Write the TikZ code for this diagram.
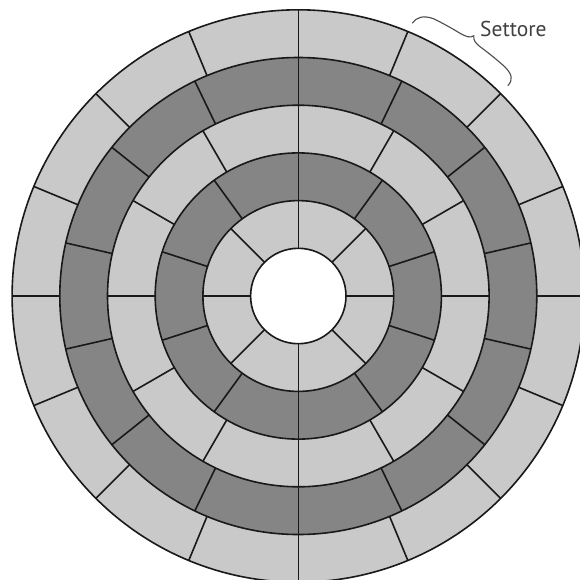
\documentclass[tikz,border=0pt]{standalone}
\usepackage{fontspec}
\setmainfont{PT Sans}
\begin{document}
\begin{tikzpicture}[x=1pt,y=1pt,
  ringline/.style={line width=1.6pt, draw=black!90},
  lightfill/.style={fill=black!21},
  darkfill/.style={fill=black!48},
  bracestyle/.style={line width=1.1pt, draw=black!70, line cap=round, line join=round},
  lbl/.style={text=black!75, font=\fontsize{21.5}{24}\selectfont, inner sep=0pt, anchor=base west}]
\useasboundingbox (0,-579) rectangle (580,0);
\clip (0,-579) rectangle (580,0);
\fill[white] (0,-579) rectangle (580,0);
\begin{scope}[shift={(298.3,-296)}]
  \def\ra{47.7}
  \def\rb{95.4}
  \def\rc{143.1}
  \def\rd{190.8}
  \def\re{238.5}
  \def\rf{286.2}
  % fills
  \fill[lightfill] (0,0) circle (\rf);
  \fill[darkfill] (0,0) circle (\re);
  \fill[lightfill] (0,0) circle (\rd);
  \fill[darkfill] (0,0) circle (\rc);
  \fill[lightfill] (0,0) circle (\rb);
  \fill[white] (0,0) circle (\ra);
  % radial lines
  \foreach \k in {0,...,7} \draw[ringline] (\k*45:\ra) -- (\k*45:\rb);
  \foreach \k in {0,...,9} \draw[ringline] (18+\k*36:\rb) -- (18+\k*36:\rc);
  \foreach \k in {0,...,11} \draw[ringline] (\k*30:\rc) -- (\k*30:\rd);
  \foreach \k in {0,...,13} \draw[ringline] (90+\k*360/14:\rd) -- (90+\k*360/14:\re);
  \foreach \k in {0,...,15} \draw[ringline] (\k*22.5:\re) -- (\k*22.5:\rf);
  % circles
  \foreach \r in {\ra,\rb,\rc,\rd,\re,\rf} \draw[ringline] (0,0) circle (\r);
  % brace
  \coordinate (bs) at (67.3:296);
  \coordinate (be) at (45.1:297);
  \coordinate (tip) at (56:314);
  \draw[bracestyle] (bs) .. controls (67:303) and (66:307.5) .. (64:308.5)
     arc[start angle=64, end angle=58.5, radius=308.5]
     .. controls (57:308.8) and (56.3:310) .. (tip)
     .. controls (55.7:310) and (55:308.5) .. (53.5:308.5)
     arc[start angle=53.5, end angle=48, radius=308.5]
     .. controls (46:308) and (45.2:305) .. (be);
\end{scope}
\node[lbl] (label) at (480,-36) {Settore};
\end{tikzpicture}
\end{document}
